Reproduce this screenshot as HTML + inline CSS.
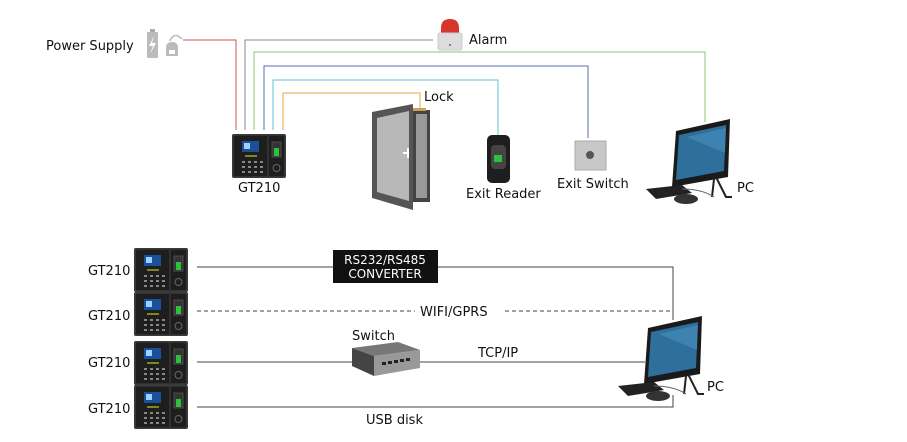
<!DOCTYPE html>
<html><head><meta charset="utf-8"><style>
html,body{margin:0;padding:0;background:#fff;}
svg{display:block;}
text{font-family:"DejaVu Sans","Liberation Sans",sans-serif;fill:#111;}
</style></head><body>
<svg width="907" height="442" viewBox="0 0 907 442" xmlns="http://www.w3.org/2000/svg">
<defs>
<g id="dev">
  <rect x="0" y="0" width="54" height="44" rx="2" fill="#2a2a2a"/>
  <rect x="1" y="1" width="52" height="42" rx="2" fill="#1e1e1e" stroke="#555" stroke-width="0.8"/>
  <line x1="36" y1="2" x2="36" y2="42" stroke="#444"/>
  <rect x="10" y="7" width="17" height="11" fill="#1a4f9a"/>
  <rect x="12" y="9" width="6" height="6" fill="#9fd0ff"/>
  <rect x="13" y="21" width="12" height="2" fill="#7a8a20"/>
  <g fill="#888">
    <rect x="10" y="27" width="3" height="2"/><rect x="16" y="27" width="3" height="2"/><rect x="22" y="27" width="3" height="2"/><rect x="28" y="27" width="3" height="2"/>
    <rect x="10" y="32" width="3" height="2"/><rect x="16" y="32" width="3" height="2"/><rect x="22" y="32" width="3" height="2"/><rect x="28" y="32" width="3" height="2"/>
    <rect x="10" y="37" width="3" height="2"/><rect x="16" y="37" width="3" height="2"/><rect x="22" y="37" width="3" height="2"/><rect x="28" y="37" width="3" height="2"/>
  </g>
  <rect x="40" y="8" width="9" height="15" fill="#333" stroke="#666" stroke-width="0.6"/>
  <rect x="42" y="14" width="5" height="8" fill="#2fbf3a"/>
  <circle cx="44.5" cy="34" r="3.5" fill="none" stroke="#666"/>
</g>
<g id="pc">
  <polygon points="34,8 88,-4 86,54 30,64" fill="#1a1a1a"/>
  <polygon points="37,12 84,2 82,48 34,57" fill="#2f6f9c"/>
  <polygon points="45,14 84,5 83,30" fill="#4a8fc0" opacity="0.6"/>
  <path d="M74,54 L84,74 L90,74" stroke="#222" stroke-width="2" fill="none"/>
  <path d="M72,56 L70,74" stroke="#222" stroke-width="2"/>
  <polygon points="4,66 40,62 50,70 14,76" fill="#222"/>
  <ellipse cx="44" cy="76" rx="12" ry="5" fill="#333"/>
  <path d="M40,66 Q60,66 72,74" stroke="#666" fill="none"/>
</g>
</defs>

<!-- TOP SECTION -->
<text x="46" y="50" font-size="13">Power Supply</text>
<!-- power icon -->
<rect x="147" y="32" width="11" height="26" rx="1" fill="#bbb"/>
<rect x="150" y="29" width="5" height="3" fill="#aaa"/>
<path d="M154,36 L149,46 L153,46 L150,54 L156,43 L152,43 Z" fill="#fff"/>
<path d="M166,48 q0,-6 6,-6 q6,0 6,6 v8 h-12 z" fill="#bbb"/>
<path d="M170,41 q4,-10 12,-2" stroke="#bbb" fill="none" stroke-width="1.5"/>
<rect x="169" y="50" width="6" height="4" fill="#fff"/>

<g fill="none" stroke-width="1">
  <polyline points="183,40 236,40 236,130" stroke="#d65050"/>
  <polyline points="433,40 245,40 245,130" stroke="#888"/>
  <polyline points="254,130 254,52 705,52 705,122" stroke="#8cc46c"/>
  <polyline points="264,130 264,66 588,66 588,138" stroke="#5a6fb0"/>
  <polyline points="273,130 273,80 498,80 498,135" stroke="#5cc5d0"/>
  <polyline points="283,130 283,93 420,93 420,110" stroke="#f0a040"/>
</g>

<!-- alarm -->
<path d="M441,28 q0,-9 9,-9 q9,0 9,9 v6 h-18 z" fill="#d8352f"/>
<rect x="438" y="33" width="24" height="17" rx="2" fill="#ddd" stroke="#ccc"/>
<circle cx="450" cy="45" r="1" fill="#666"/>
<text x="469" y="44" font-size="13">Alarm</text>

<use href="#dev" x="232" y="134"/>
<text x="238" y="192" font-size="13">GT210</text>

<!-- door -->
<polygon points="372,112 413,104 413,210 372,198" fill="#555"/>
<polygon points="377,118 409,111 409,201 377,192" fill="#b8b8b8"/>
<rect x="413" y="110" width="17" height="92" fill="#444"/>
<rect x="416" y="114" width="11" height="84" fill="#999"/>
<rect x="413" y="108" width="13" height="3" fill="#c9a060"/>
<rect x="407" y="148" width="2" height="10" fill="#fff"/>
<rect x="403" y="152" width="5" height="2" fill="#fff"/>
<text x="424" y="101" font-size="13">Lock</text>

<!-- exit reader -->
<rect x="487" y="135" width="23" height="48" rx="5" fill="#1e1e1e"/>
<rect x="491" y="145" width="15" height="24" rx="4" fill="#444"/>
<rect x="494" y="155" width="8" height="7" fill="#2fbf3a"/>
<text x="466" y="198" font-size="13">Exit Reader</text>

<!-- exit switch -->
<rect x="575" y="141" width="31" height="29" fill="#c8c8c8" stroke="#aaa"/>
<circle cx="590" cy="155" r="4" fill="#555"/>
<text x="557" y="188" font-size="13">Exit Switch</text>

<use href="#pc" x="642" y="123"/>
<text x="737" y="192" font-size="13">PC</text>

<!-- BOTTOM SECTION -->
<use href="#dev" x="134" y="248"/>
<use href="#dev" x="134" y="292"/>
<use href="#dev" x="134" y="341"/>
<use href="#dev" x="134" y="385"/>
<text x="88" y="275" font-size="13">GT210</text>
<text x="88" y="320" font-size="13">GT210</text>
<text x="88" y="367" font-size="13">GT210</text>
<text x="88" y="413" font-size="13">GT210</text>

<g stroke="#444" stroke-width="1" fill="none">
  <polyline points="197,267 673,267 673,320"/>
  <line x1="197" y1="311" x2="415" y2="311" stroke-dasharray="4,3"/>
  <line x1="505" y1="311" x2="673" y2="311" stroke-dasharray="4,3"/>
  <line x1="197" y1="362" x2="352" y2="362"/>
  <line x1="420" y1="362" x2="645" y2="362"/>
  <polyline points="197,407 673,407 673,395"/>
</g>
<rect x="333" y="250" width="105" height="33" fill="#111"/>
<text x="385" y="264" font-size="12" text-anchor="middle" style="fill:#fff">RS232/RS485</text>
<text x="385" y="278" font-size="12" text-anchor="middle" style="fill:#fff">CONVERTER</text>
<text x="420" y="316" font-size="13">WIFI/GPRS</text>

<!-- switch -->
<polygon points="352,348 398,342 420,350 374,356" fill="#777"/>
<polygon points="352,348 374,356 374,376 352,366" fill="#444"/>
<polygon points="374,356 420,350 420,368 374,376" fill="#999"/>
<g fill="#222"><rect x="382" y="362" width="4" height="3"/><rect x="388" y="361" width="4" height="3"/><rect x="394" y="360" width="4" height="3"/><rect x="400" y="359" width="4" height="3"/><rect x="406" y="358" width="4" height="3"/></g>
<text x="352" y="340" font-size="13">Switch</text>
<text x="478" y="357" font-size="13">TCP/IP</text>
<text x="366" y="424" font-size="13">USB disk</text>

<use href="#pc" x="614" y="320"/>
<text x="707" y="391" font-size="13">PC</text>
</svg>
</body></html>
